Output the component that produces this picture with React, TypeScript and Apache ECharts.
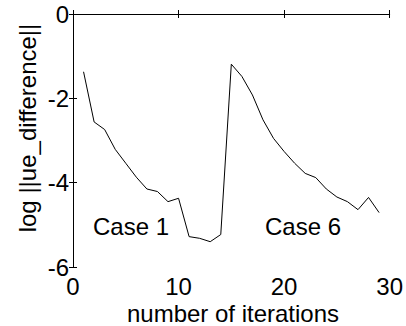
import React, { useEffect, useRef } from "react";
import * as echarts from "echarts";

const iterations = [1, 2, 3, 4, 5, 6, 7, 8, 9, 10, 11, 12, 13, 14, 15, 16, 17, 18, 19, 20, 21, 22, 23, 24, 25, 26, 27, 28, 29];
const logDiff = [-1.37, -2.56, -2.74, -3.21, -3.54, -3.87, -4.15, -4.21, -4.45, -4.37, -5.28, -5.32, -5.40, -5.23, -1.19, -1.48, -1.92, -2.51, -2.95, -3.26, -3.54, -3.78, -3.88, -4.15, -4.34, -4.45, -4.64, -4.35, -4.71];
const xTicks = [0, 10, 20, 30];
const yTicks = [-6, -4, -2, 0];
const annotations = ["Case 1", "Case 6"];
const xName = "number of iterations";
const yName = "log ||ue_difference||";

const FONT = "'Liberation Sans', Arial, sans-serif";

export default function App() {
  const ref = useRef<HTMLDivElement>(null);
  useEffect(() => {
    const chart = echarts.init(ref.current!, null, { renderer: "svg" });
    const axisCommon = {
      type: "value" as const,
      axisLine: { show: true, lineStyle: { color: "#000", width: 1 } },
      axisTick: { show: true, inside: true, length: 4, lineStyle: { color: "#000" } },
      splitLine: { show: false },
    };
    chart.setOption({
      animation: false,
      backgroundColor: "#fff",
      grid: { left: 73, top: 14, right: 14, bottom: 59 },
      xAxis: [
        {
          ...axisCommon,
          position: "bottom",
          min: xTicks[0],
          max: xTicks[xTicks.length - 1],
          interval: 10,
          axisLabel: { color: "#000", fontSize: 24, fontFamily: FONT, margin: 7 },
        },
        {
          ...axisCommon,
          position: "top",
          min: xTicks[0],
          max: xTicks[xTicks.length - 1],
          interval: 10,
          axisLabel: { show: false },
        },
      ],
      yAxis: [
        {
          ...axisCommon,
          position: "left",
          min: yTicks[0],
          max: yTicks[yTicks.length - 1],
          interval: 2,
          axisLabel: { color: "#000", fontSize: 24, fontFamily: FONT, margin: 4 },
        },
        {
          ...axisCommon,
          position: "right",
          min: yTicks[0],
          max: yTicks[yTicks.length - 1],
          interval: 2,
          axisLabel: { show: false },
        },
      ],
      graphic: [
        {
          type: "text",
          left: 93,
          top: 214,
          style: { text: annotations[0], fontSize: 24, fontFamily: FONT, fill: "#000" },
        },
        {
          type: "text",
          left: 265,
          top: 214,
          style: { text: annotations[1], fontSize: 24, fontFamily: FONT, fill: "#000" },
        },
        {
          type: "text",
          x: 233,
          y: 313,
          style: { text: xName, fontSize: 24, fontFamily: FONT, fill: "#000", align: "center", verticalAlign: "middle" },
        },
        {
          type: "text",
          x: 27,
          y: 128,
          rotation: Math.PI / 2,
          style: { text: yName, fontSize: 24, fontFamily: FONT, fill: "#000", align: "center", verticalAlign: "middle" },
        },
      ],
      series: [
        {
          type: "line",
          data: iterations.map((x, i) => [x, logDiff[i]]),
          showSymbol: false,
          lineStyle: { color: "#000", width: 1 },
          silent: true,
        },
      ],
    });
    return () => chart.dispose();
  }, []);
  return <div ref={ref} style={{ width: 406, height: 326, position: "absolute", left: 0, top: 0 }} />;
}
